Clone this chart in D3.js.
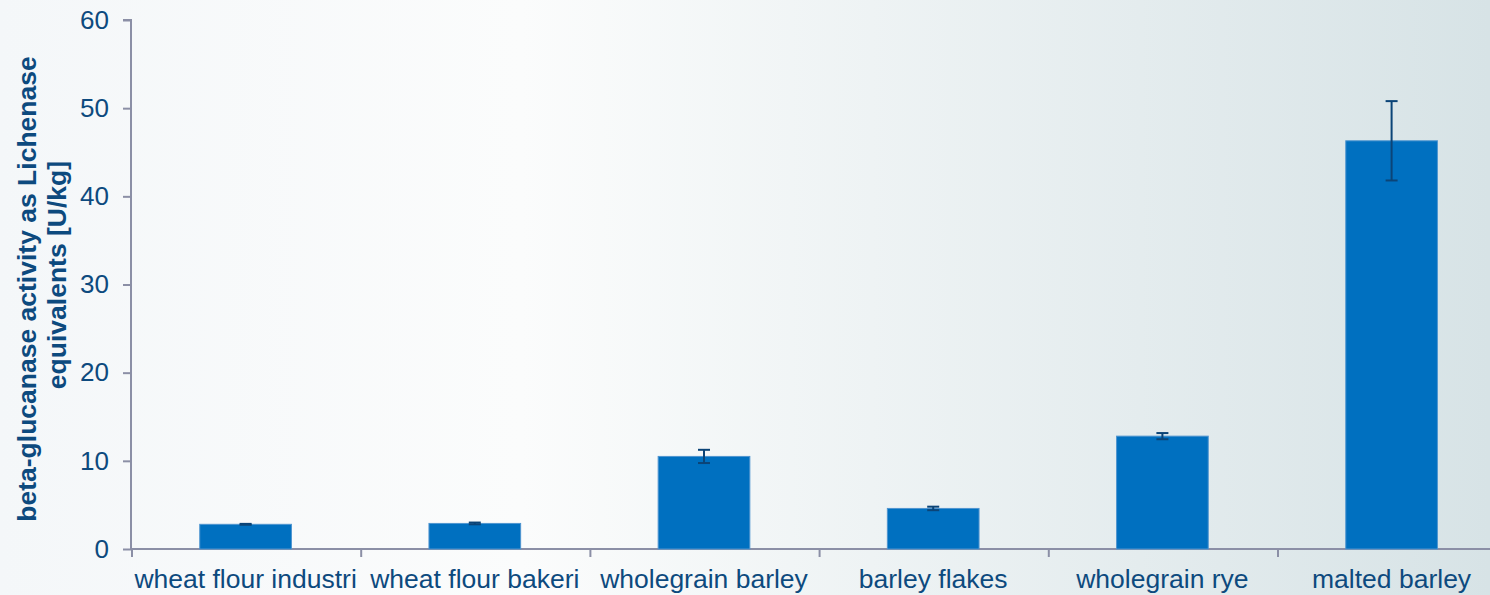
<!DOCTYPE html>
<html>
<head>
<meta charset="utf-8">
<script src="https://cdn.jsdelivr.net/npm/d3@7"></script>
<style>
  html, body { margin: 0; padding: 0; }
  body { width: 1490px; height: 595px; overflow: hidden; }
</style>
</head>
<body>
<div id="chart"></div>
<script>
// ── DATA ─────────────────────────────────────────────────────────────────────
const categories = ['wheat flour industri', 'wheat flour bakeri', 'wholegrain barley',
                    'barley flakes', 'wholegrain rye', 'malted barley'];
const activity   = [2.8, 2.9, 10.5, 4.6, 12.8, 46.3];
const errors     = [0.05, 0.1, 0.75, 0.2, 0.35, 4.5];
const yTicks     = [0, 10, 20, 30, 40, 50, 60];

// ── DIMENSIONS ───────────────────────────────────────────────────────────────
const W = 1490, H = 595;
const margin = { top: 20, left: 131, bottom: 46 };
const bandW  = 229.2;
const plotH  = H - margin.top - margin.bottom;

const FONT       = 'Liberation Sans, Arial, sans-serif';
const TEXT_COLOR = '#0d4a7e';
const AXIS_COLOR = '#8b8fa6';
const BAR_COLOR  = '#0070c0';
const ERR_COLOR  = '#0b4477';

const svg = d3.select('#chart').append('svg')
  .attr('width', W).attr('height', H);

// background gradient
const grad = svg.append('defs').append('linearGradient')
  .attr('id', 'bg').attr('x1', 0).attr('x2', 1).attr('y1', 0).attr('y2', 0);
grad.append('stop').attr('offset', '0%').attr('stop-color', '#f4f7f9');
grad.append('stop').attr('offset', '35%').attr('stop-color', '#fbfcfc');
grad.append('stop').attr('offset', '100%').attr('stop-color', '#d7e3e6');
svg.append('rect').attr('width', W).attr('height', H).attr('fill', 'url(#bg)');

const g = svg.append('g').attr('transform', `translate(${margin.left},${margin.top})`);

// ── SCALES ───────────────────────────────────────────────────────────────────
const x = d3.scaleBand()
  .domain(categories)
  .range([0, bandW * categories.length])
  .paddingInner(0.6).paddingOuter(0.3);

const y = d3.scaleLinear().domain([0, 60]).range([plotH, 0]);

// ── AXES ─────────────────────────────────────────────────────────────────────
const yAxis = g.append('g')
  .call(d3.axisLeft(y).tickValues(yTicks).tickSize(8).tickPadding(14));
yAxis.select('.domain').attr('stroke', AXIS_COLOR).attr('stroke-width', 2)
  .attr('d', `M-8,0H0V${plotH}`);
yAxis.selectAll('.tick line').attr('stroke', AXIS_COLOR).attr('stroke-width', 2);
yAxis.selectAll('.tick text')
  .attr('fill', TEXT_COLOR)
  .attr('font-family', FONT)
  .attr('font-size', '26px');

// x axis: baseline + ticks at band boundaries
const xAxisG = g.append('g').attr('transform', `translate(0,${plotH})`);
xAxisG.append('line')
  .attr('x1', 0).attr('x2', bandW * categories.length)
  .attr('stroke', AXIS_COLOR).attr('stroke-width', 2);
xAxisG.selectAll('.xtick')
  .data(d3.range(categories.length + 1))
  .join('line')
    .attr('class', 'xtick')
    .attr('x1', i => i * bandW + 1).attr('x2', i => i * bandW + 1)
    .attr('y1', 0).attr('y2', 8)
    .attr('stroke', AXIS_COLOR).attr('stroke-width', 2);
xAxisG.selectAll('.xlabel')
  .data(categories)
  .join('text')
    .attr('class', 'xlabel')
    .attr('x', d => x(d) + x.bandwidth() / 2)
    .attr('y', 39)
    .attr('text-anchor', 'middle')
    .attr('fill', TEXT_COLOR)
    .attr('font-family', FONT)
    .attr('font-size', '26.5px')
    .text(d => d);

// ── BARS ─────────────────────────────────────────────────────────────────────
g.selectAll('.bar')
  .data(categories)
  .join('rect')
    .attr('class', 'bar')
    .attr('x', d => x(d))
    .attr('y', (d, i) => y(activity[i]))
    .attr('width', x.bandwidth())
    .attr('height', (d, i) => plotH - y(activity[i]))
    .attr('fill', BAR_COLOR)
    .attr('stroke', '#4f95d0')
    .attr('stroke-width', 1);

// ── ERROR BARS ───────────────────────────────────────────────────────────────
const eb = g.selectAll('.err')
  .data(categories)
  .join('g')
    .attr('class', 'err')
    .attr('stroke', ERR_COLOR)
    .attr('stroke-width', 2);

eb.append('line')
  .attr('x1', d => x(d) + x.bandwidth() / 2).attr('x2', d => x(d) + x.bandwidth() / 2)
  .attr('y1', (d, i) => y(activity[i] + errors[i]))
  .attr('y2', (d, i) => y(activity[i] - errors[i]));
eb.append('line')
  .attr('x1', d => x(d) + x.bandwidth() / 2 - 6).attr('x2', d => x(d) + x.bandwidth() / 2 + 6)
  .attr('y1', (d, i) => y(activity[i] + errors[i]))
  .attr('y2', (d, i) => y(activity[i] + errors[i]));
eb.append('line')
  .attr('x1', d => x(d) + x.bandwidth() / 2 - 6).attr('x2', d => x(d) + x.bandwidth() / 2 + 6)
  .attr('y1', (d, i) => y(activity[i] - errors[i]))
  .attr('y2', (d, i) => y(activity[i] - errors[i]));

// ── Y LABEL ──────────────────────────────────────────────────────────────────
const yLabel = svg.append('text')
  .attr('transform', 'translate(36,289) rotate(-90)')
  .attr('text-anchor', 'middle')
  .attr('fill', TEXT_COLOR)
  .attr('font-family', FONT)
  .attr('font-weight', 'bold')
  .attr('font-size', '26.5px');
yLabel.append('tspan').attr('x', 0).attr('y', 0).text('beta-glucanase activity as Lichenase');
yLabel.append('tspan').attr('x', 14).attr('y', 30).text('equivalents [U/kg]');
</script>
</body>
</html>
